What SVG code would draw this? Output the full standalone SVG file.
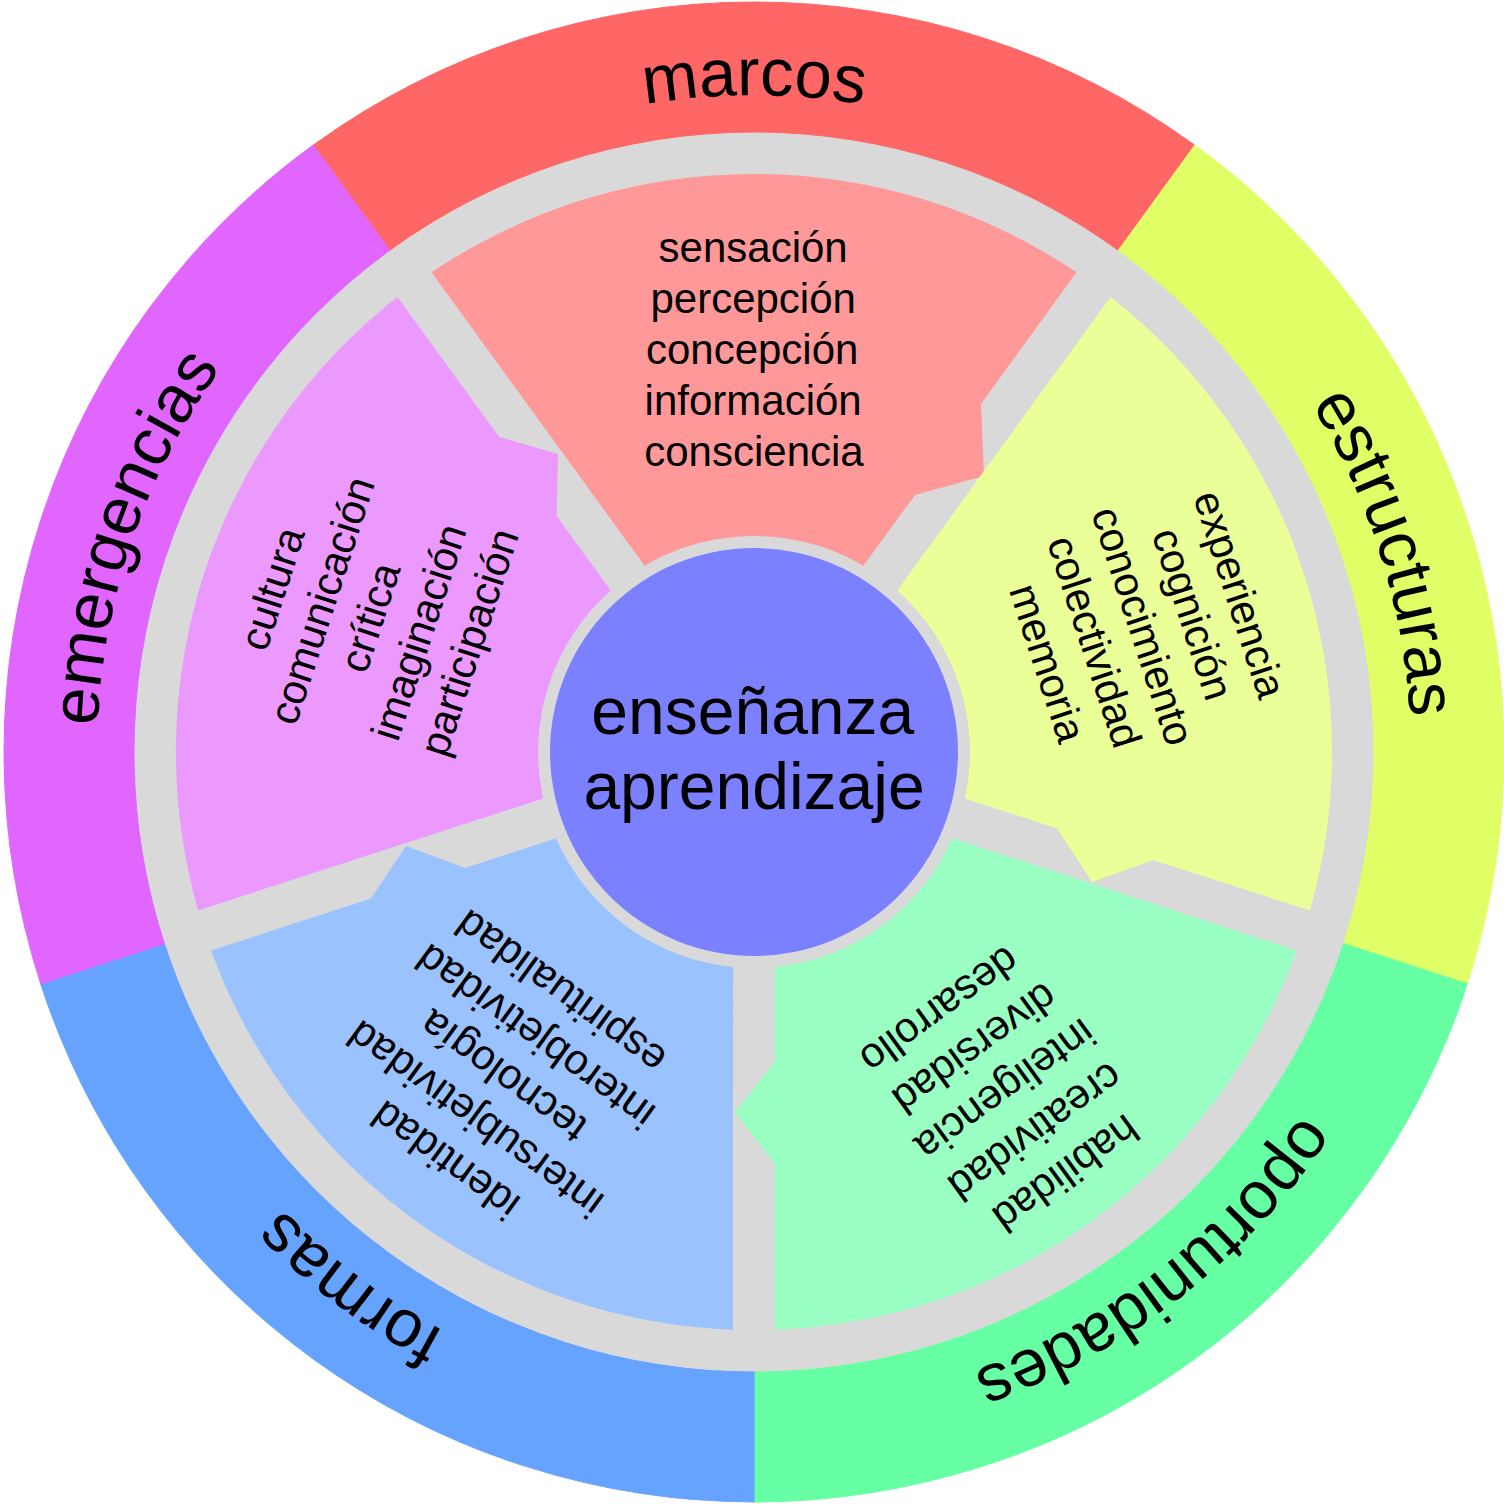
<svg xmlns="http://www.w3.org/2000/svg" width="1504" height="1504" viewBox="0 0 1504 1504">
<style>
.lbl{font-family:"Liberation Sans",Arial,Helvetica,sans-serif;fill:#000000;}
.outer{font-size:67px;text-anchor:middle;}
.inner{font-size:42px;text-anchor:middle;}
.core{font-size:66px;text-anchor:middle;}
.seg{stroke:none;}
</style>
<defs>
<path id="ring" d="M 313.16 145.24 A 750 750 0 0 1 1194.84 145.24 L 1118.43 250.41 A 620 620 0 0 0 389.57 250.41 Z"/>
<path id="labelArc" d="M 97 752 A 657 657 0 0 1 1411 752"/>
</defs>
<rect width="1504" height="1504" fill="#FFFFFF"/>
<circle id="gray-disk" cx="754" cy="752" r="622" fill="#D9D9D9"/>

<g id="marcos">
<use href="#ring" fill="#FF6666" stroke="#FF6666" stroke-width="1"/>
<text class="lbl outer"><textPath href="#labelArc" startOffset="50%">marcos</textPath></text>
</g>
<g id="estructuras">
<use href="#ring" fill="#E0FF66" stroke="#E0FF66" stroke-width="1" transform="rotate(72 754 752)"/>
<text class="lbl outer" transform="rotate(72.5 754 752)"><textPath href="#labelArc" startOffset="50%">estructuras</textPath></text>
</g>
<g id="oportunidades">
<use href="#ring" fill="#66FFA3" stroke="#66FFA3" stroke-width="1" transform="rotate(144 754 752)"/>
<text class="lbl outer" transform="rotate(142 754 752)"><textPath href="#labelArc" startOffset="50%">oportunidades</textPath></text>
</g>
<g id="formas">
<use href="#ring" fill="#66A3FF" stroke="#66A3FF" stroke-width="1" transform="rotate(216 754 752)"/>
<text class="lbl outer" transform="rotate(217 754 752)"><textPath href="#labelArc" startOffset="50%">formas</textPath></text>
</g>
<g id="emergencias">
<use href="#ring" fill="#E066FF" stroke="#E066FF" stroke-width="1" transform="rotate(288 754 752)"/>
<text class="lbl outer" transform="rotate(289 754 752)"><textPath href="#labelArc" startOffset="50%">emergencias</textPath></text>
</g>

<g id="inner-marcos">
<path class="seg" fill="#FF9999" d="M 431.5 272.3 A 578 578 0 0 1 1076.5 272.3 L 981 404 L 984 476 L 915 495 L 863.4 565.8 A 216 216 0 0 0 644.6 565.8 Z"/>
<text class="lbl inner" transform="translate(754 364)">
<tspan x="5" y="-102">sensaci&#243;n</tspan>
<tspan x="5" y="-51">percepci&#243;n</tspan>
<tspan x="4" y="0">concepci&#243;n</tspan>
<tspan x="5" y="51">informaci&#243;n</tspan>
<tspan x="0" y="102">consciencia</tspan>
</text>
</g>

<g id="inner-estructuras">
<path class="seg" fill="#EBFF99" d="M 1110.6 297 A 578 578 0 0 1 1309.9 910.5 L 1153 860 L 1092 882 L 1057 828.4 L 964.9 798.5 A 216 216 0 0 0 897.3 590.4 Z"/>
<text class="lbl inner" transform="translate(1131 636) rotate(72)">
<tspan x="0" y="-102">experiencia</tspan>
<tspan x="4" y="-51">cognici&#243;n</tspan>
<tspan x="0" y="0">conocimiento</tspan>
<tspan x="0" y="51">colectividad</tspan>
<tspan x="0" y="102">memoria</tspan>
</text>
</g>

<g id="inner-oportunidades">
<path class="seg" fill="#99FFC2" d="M 1296.9 950.5 A 578 578 0 0 1 775.05 1329.65 L 775 1164 L 735 1112.5 L 775 1061 L 774.9 966.9 A 216 216 0 0 0 952 838.3 Z"/>
<text class="lbl inner" transform="translate(992 1082) rotate(144)">
<tspan x="0" y="-103">habilidad</tspan>
<tspan x="0" y="-51.5">creatividad</tspan>
<tspan x="0" y="0">inteligencia</tspan>
<tspan x="0" y="51.5">diversidad</tspan>
<tspan x="0" y="103">desarrollo</tspan>
</text>
</g>

<g id="inner-formas">
<path class="seg" fill="#99C2FF" d="M 732.95 1329.65 A 578 578 0 0 1 211.1 950.5 L 371 898.5 L 406 846 L 465 867.9 L 556 838.3 A 216 216 0 0 0 733.1 966.9 Z"/>
<text class="lbl inner" transform="translate(509 1063) rotate(216)">
<tspan x="0" y="-102">identidad</tspan>
<tspan x="0" y="-51">intersubjetividad</tspan>
<tspan x="3" y="0">tecnolog&#237;a</tspan>
<tspan x="0" y="51">interobjetividad</tspan>
<tspan x="0" y="102">espiritualidad</tspan>
</text>
</g>

<g id="inner-emergencias">
<path class="seg" fill="#EB99FF" d="M 198.1 910.5 A 578 578 0 0 1 397.4 297 L 499.2 437 L 558 454 L 556.6 516 L 610.7 590.4 A 216 216 0 0 0 543.1 798.5 Z"/>
<text class="lbl inner" transform="translate(384.5 619) rotate(288)">
<tspan x="0" y="-102">cultura</tspan>
<tspan x="4" y="-51">comunicaci&#243;n</tspan>
<tspan x="3" y="0">cr&#237;tica</tspan>
<tspan x="4" y="51">imaginaci&#243;n</tspan>
<tspan x="4" y="102">participaci&#243;n</tspan>
</text>
</g>

<g id="centro">
<circle cx="754" cy="752" r="204" fill="#7B80FF"/>
<text class="lbl core">
<tspan x="762" y="734">ense&#241;anza</tspan>
<tspan x="754" y="809">aprendizaje</tspan>
</text>
</g>
</svg>
